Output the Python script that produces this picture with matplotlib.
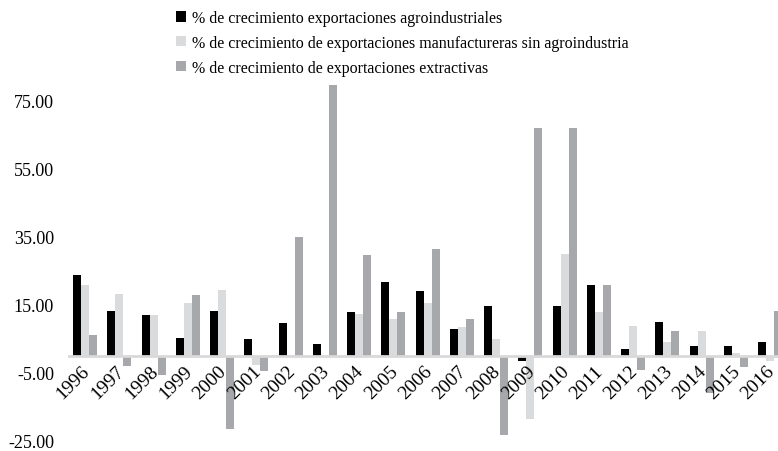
import numpy as np
import matplotlib
matplotlib.use("Agg")
import matplotlib.pyplot as plt
from matplotlib.patches import Patch

plt.rcParams['font.family'] = ['Liberation Serif', 'DejaVu Serif']

years = [str(y) for y in range(1996, 2017)]

# annual growth (%) of each export group
agro = [23.8, 13.3, 12.2, 5.2, 13.3, 4.9, 9.6, 3.5, 12.8, 21.7, 19.1,
        7.8, 14.8, -1.4, 14.8, 20.9, 2.0, 10.1, 2.9, 2.9, 4.1]
manuf = [20.9, 18.3, 12.2, 15.7, 19.4, -2.5, 0.3, -0.5, 12.5, 11.0, 15.7,
         8.4, 4.9, -18.5, 30.1, 13.0, 8.7, 4.1, 7.5, 0.9, -1.4]
extract = [6.1, -2.8, -5.7, 18.0, -21.6, -4.5, 35.1, 79.7, 29.6, 13.0, 31.6,
           11.0, -23.1, 67.0, 67.2, 20.9, -4.0, 7.5, -10.9, -3.1, 13.3]

labels = ['% de crecimiento exportaciones agroindustriales',
          '% de crecimiento de exportaciones manufactureras sin agroindustria',
          '% de crecimiento de exportaciones extractivas']
colors = ['#000000', '#dadbdc', '#a7a8ab']
yticks = [-25, -5, 15, 35, 55, 75]

fig = plt.figure(figsize=(7.78, 4.52), dpi=100)
ax = fig.add_axes([68 / 778, 1 - 442 / 452, 1 - 68 / 778, (442 - 68) / 452])

x = np.arange(len(years))
w = 0.234
for k, (vals, c) in enumerate(zip([agro, manuf, extract], colors)):
    ax.bar(x + (k - 1) * w, vals, width=w, color=c, zorder=2)

ax.axhline(0, color='#d9d9d9', lw=2, zorder=3)

ax.set_xlim(-0.5, 20.23)
ax.set_ylim(-25, 85)
ax.set_yticks(yticks)
ax.set_yticklabels([f'{v:.2f}' for v in yticks], fontsize=13)
ax.tick_params(axis='y', length=0, pad=10)
ax.set_xticks([])
for s in ax.spines.values():
    s.set_visible(False)

for i, yr in enumerate(years):
    ax.text(i + 0.23, -1.8, yr, rotation=45, ha='right', va='top',
            fontsize=14, zorder=4)

handles = [Patch(facecolor=c, edgecolor='none') for c in colors]
fig.legend(handles, labels, loc='upper left', bbox_to_anchor=(165 / 778, 1.0),
           frameon=False, fontsize=11.5, handlelength=0.6, handleheight=0.6,
           handletextpad=0.4, labelspacing=0.55, borderaxespad=0.3)

fig.savefig('out.png', dpi=100)
